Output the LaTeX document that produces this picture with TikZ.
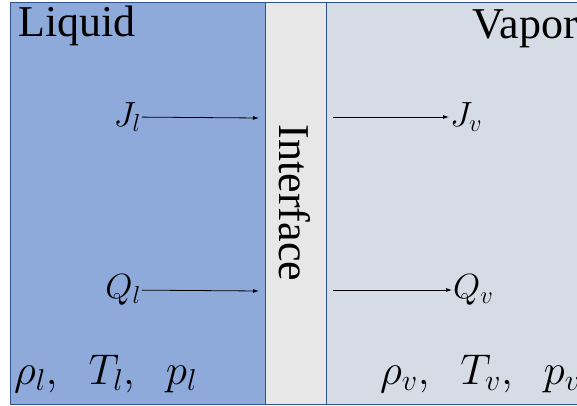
\RequirePackage{fix-cm}
\documentclass[tikz,border=0pt]{standalone}
\usepackage{fontspec}
\setmainfont{Liberation Serif}
\usetikzlibrary{arrows.meta}
\definecolor{liqblue}{RGB}{142,170,219}
\definecolor{vapgrey}{RGB}{214,220,229}
\definecolor{intgrey}{RGB}{231,231,231}
\definecolor{edgeblue}{RGB}{47,82,143}
\tikzset{math/.style = {execute at begin node=$, execute at end node=$},
  phase/.style = {draw=edgeblue, line width=.8pt},
  flux/.style = {-{Latex[length=6pt,width=4pt]}, line width=.8pt},
  qty/.style = {math, font=\fontsize{35}{40}\selectfont, inner sep=1pt},
  state/.style = {math, font=\fontsize{43}{48}\selectfont, inner sep=0pt},
  word/.style = {font=\fontsize{44}{48}\selectfont, inner sep=0pt}}

\begin{document}
\begin{tikzpicture}[x=1pt, y=-1pt]
      \clip (0,0) rectangle (577,406);
      \path[fill=white] (0,0) rectangle (577,406);
      \path[phase, fill=liqblue] (10,2) rectangle (265,404);
      \path[phase, fill=intgrey] (265,2) rectangle (326,404);
      \path[phase, fill=vapgrey] (326,2) rectangle (600,404);
      \node[word, anchor=base west] (liquid) at (18,37) {Liquid};
      \node[word, anchor=base east] (vapor) at (578,39) {Vapor};
      \node[word, rotate=-90] (iface) at (295,203) {Interface};
      % fluxes into and out of the interface
      \node[qty, anchor=east] (Jl) at (142,117) {J_l};
      \node[qty, anchor=west] (Jv) at (449,117) {J_v};
      \node[qty, anchor=east] (Ql) at (142,290) {Q_l};
      \node[qty, anchor=west] (Qv) at (452,290) {Q_v};
      \coordinate (Jlend) at (259,118);
      \coordinate (Jvbeg) at (333,117);
      \coordinate (Qlend) at (259,291);
      \coordinate (Qvbeg) at (333,290);
      \draw[flux] (Jl) -- (Jlend);
      \draw[flux] (Jvbeg) -- (Jv);
      \draw[flux] (Ql) -- (Qlend);
      \draw[flux] (Qvbeg) -- (Qv);
      \node[state, anchor=base west] (lstate) at (14,384) {\rho_l,\;\; T_l,\;\; p_l};
      \node[state, anchor=base west] (vstate) at (380,384) {\rho_v,\;\; T_v,\;\; p_v};
    \end{tikzpicture}
\end{document}
